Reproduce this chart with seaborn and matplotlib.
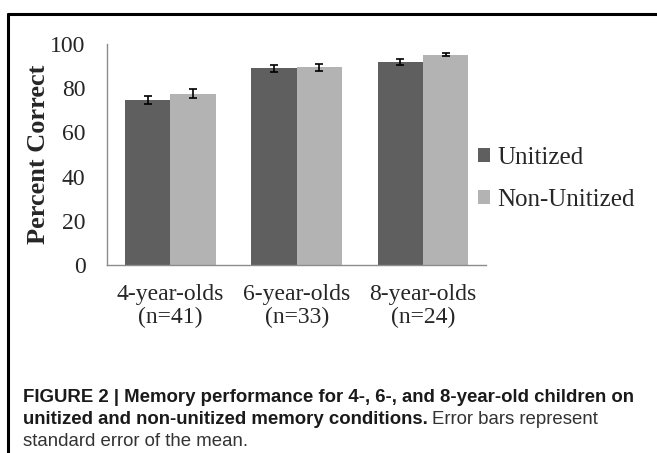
import matplotlib
matplotlib.use("Agg")
import pandas as pd
import matplotlib.pyplot as plt
import seaborn as sns
from matplotlib.lines import Line2D
from matplotlib.patches import Patch

# Data
groups = ["4-year-olds\n(n=41)", "6-year-olds\n(n=33)", "8-year-olds\n(n=24)"]
conditions = ["Unitized", "Non-Unitized"]
unitized = [74.7, 89.0, 91.9]
non_unitized = [77.5, 89.4, 95.2]
unitized_se = [1.8, 1.65, 1.45]
non_unitized_se = [2.0, 1.45, 0.75]
colors = ["#5f5f5f", "#b3b3b3"]

sns.set_style("white")
plt.rcParams["font.family"] = ["Liberation Serif", "DejaVu Serif"]

df = pd.DataFrame({
    "Group": groups * 2,
    "Condition": [conditions[0]] * 3 + [conditions[1]] * 3,
    "Percent": unitized + non_unitized,
})

fig = plt.figure(figsize=(6.57, 4.53), dpi=100)
ax = fig.add_axes([0.163, 0.415, 0.577, 0.488])

sns.barplot(data=df, x="Group", y="Percent", hue="Condition", hue_order=conditions,
            palette=colors, width=0.716, errorbar=None, legend=False,
            saturation=1, linewidth=0, ax=ax)

# Standard error bars on each bar
for container, se in zip(ax.containers, [unitized_se, non_unitized_se]):
    xs = [b.get_x() + b.get_width() / 2 for b in container]
    ys = [b.get_height() for b in container]
    ax.errorbar(xs, ys, yerr=se, fmt="none", ecolor="black",
                elinewidth=1.2, capsize=3.2, capthick=1.2)

axis_gray = "#8c8c8c"
ax.set_xlim(-0.5, 2.5)
ax.set_ylim(0, 100)
ax.set_yticks(range(0, 101, 20))
ax.tick_params(axis="y", labelsize=17, length=4.5, width=1, color=axis_gray, pad=11)

ax.set_xticks([-0.5, 0.5, 1.5, 2.5])
ax.set_xticklabels([])
ax.set_xticks([0, 1, 2], minor=True)
ax.set_xticklabels(groups, minor=True, fontsize=17, linespacing=1.1)
ax.tick_params(axis="x", which="major", length=7, width=1, color=axis_gray)
ax.tick_params(axis="x", which="minor", length=0, pad=14)

for side in ["top", "right"]:
    ax.spines[side].set_visible(False)
for side in ["left", "bottom"]:
    ax.spines[side].set_color(axis_gray)
    ax.spines[side].set_linewidth(1)

ax.set_xlabel("")
ax.set_ylabel("Percent Correct", fontsize=19, fontweight="bold")
ax.yaxis.set_label_coords(-0.15, 0.5)

handles = [Patch(facecolor=c, edgecolor="none") for c in colors]
fig.legend(handles=handles, labels=conditions, loc="center left",
           bbox_to_anchor=(0.727, 0.605), frameon=False, fontsize=18,
           handlelength=0.5, handleheight=0.5, handletextpad=0.3,
           labelspacing=0.8, borderpad=0, borderaxespad=0)

# Black frame (left and top edges)
fig.add_artist(Line2D([0.012, 0.012], [0, 0.969], color="black", lw=2.2,
                      transform=fig.transFigure))
fig.add_artist(Line2D([0.012, 1], [0.969, 0.969], color="black", lw=2.2,
                      transform=fig.transFigure))

# Caption
cap = dict(fontfamily=["Liberation Sans", "DejaVu Sans"], fontsize=13.4, va="baseline")
fig.text(0.035, 1 - 402 / 453,
         "FIGURE 2 | Memory performance for 4-, 6-, and 8-year-old children on",
         fontweight="bold", color="#1a1a1a", **cap)
t2 = fig.text(0.035, 1 - 424 / 453, "unitized and non-unitized memory conditions.",
              fontweight="bold", color="#1a1a1a", **cap)
ax.annotate("Error bars represent", xy=(1, 0), xycoords=t2, xytext=(3, 0),
            textcoords="offset points", ha="left", va="bottom",
            fontfamily=["Liberation Sans", "DejaVu Sans"], fontsize=13.4, color="#333333",
            annotation_clip=False)
fig.text(0.035, 1 - 446 / 453, "standard error of the mean.", color="#333333", **cap)

fig.savefig("out.png", dpi=100)
